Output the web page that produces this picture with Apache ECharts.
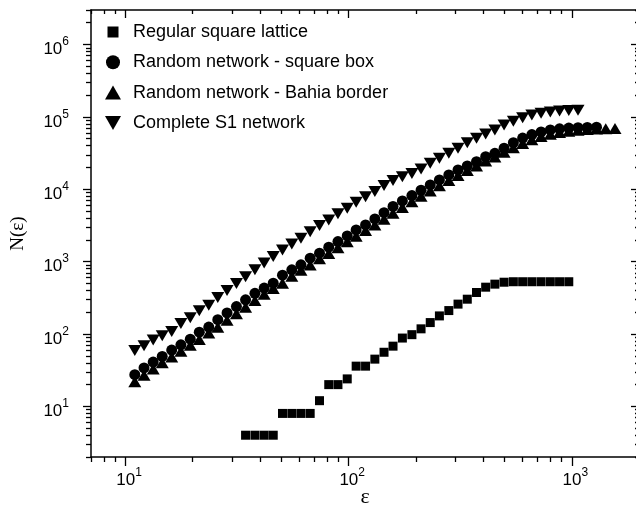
<!DOCTYPE html>
<html><head><meta charset="utf-8">
<script src="https://cdn.jsdelivr.net/npm/echarts@6/dist/echarts.min.js"></script>
<style>html,body{margin:0;padding:0;background:#fff}#c{width:636px;height:508px}</style>
</head><body><div id="c"></div>
<script>
// box size epsilon (shared grid)
const eps = [11, 12.1, 13.3, 14.6, 16.1, 17.7, 19.5, 21.4, 23.6, 25.9, 28.5, 31.4, 34.5, 38.0, 41.8, 45.9,
  50.5, 55.6, 61.1, 67.2, 74.0, 81.4, 89.5, 98.5, 108, 119, 131, 144, 158, 174, 192, 211, 232, 255, 281,
  309, 340, 374, 411, 452, 497, 547, 602, 662, 728, 801, 881, 969, 1066, 1173, 1290, 1419, 1561];

const latticeN = [null, null, null, null, null, null, null, null, null, null, null, null,
  4, 4, 4, 4, 8, 8, 8, 8, 12, 20, 20, 24, 36, 36, 45, 56, 68, 88, 98, 118, 144, 178, 211, 259, 303,
  375, 444, 489, 520, 528, 528, 528, 528, 528, 528, 528];

const squareBoxN = [27.4, 34, 41, 49, 60, 71, 85, 106, 125, 158, 196, 240, 297, 365, 431, 505, 650, 771,
  904, 1117, 1310, 1585, 1897, 2271, 2748, 3222, 3900, 4750, 5800, 6900, 8200, 9700, 11480, 13450, 15770,
  18490, 20990, 24100, 28200, 31400, 36900, 44000, 51000, 57000, 62000, 66000, 68500, 70000, 71000,
  71500, 72000];

const bahiaN = [22, 27, 33, 40, 48, 58, 70, 84, 103, 124, 155, 190, 235, 290, 355, 425, 505, 630, 760,
  900, 1100, 1300, 1560, 1880, 2250, 2700, 3200, 3850, 4650, 5600, 6700, 8000, 9500, 11200, 13200, 15500,
  18200, 21000, 24500, 28000, 32500, 37500, 43000, 48500, 53500, 57500, 61000, 63500, 65500, 67000,
  68000, 68500, 69000];

const completeS1N = [59, 69, 83, 95, 108, 140, 168, 210, 250, 320, 400, 500, 620, 771, 960, 1175, 1450,
  1750, 2110, 2600, 3150, 3776, 4600, 5470, 6600, 7900, 9300, 11300, 13200, 14900, 16500, 19100, 22900,
  26800, 31400, 36900, 44100, 50700, 58100, 65900, 77300, 87000, 97000, 106000, 112000, 117000, 120500,
  123000, 124000];

const seriesNames = ['Regular square lattice', 'Random network - square box',
  'Random network - Bahia border', 'Complete S1 network'];

const xMajor = [10, 100, 1000];
const xMinor = [7, 8, 9, 20, 30, 40, 50, 60, 70, 80, 90, 200, 300, 400, 500, 600, 700, 800, 900, 2000];
const yMajor = [10, 100, 1000, 10000, 100000, 1000000];
const yMinor = [2, 3, 4, 5, 6, 7, 8, 9, 20, 30, 40, 50, 60, 70, 80, 90, 200, 300, 400, 500, 600, 700, 800, 900,
  2000, 3000, 4000, 5000, 6000, 7000, 8000, 9000, 20000, 30000, 40000, 50000, 60000, 70000, 80000, 90000,
  200000, 300000, 400000, 500000, 600000, 700000, 800000, 900000, 2000000, 3000000];

const FONT = "'Liberation Sans', Arial, sans-serif";
const SERIF = "'Liberation Serif', 'Times New Roman', serif";

function pairs(vals) {
  const out = [];
  vals.forEach((v, i) => { if (v != null) out.push([eps[i], v]); });
  return out;
}
function supLabel(v) {
  const e = Math.round(Math.log10(v));
  return '{b|10}{s|' + e + '}';
}
const black = '#000';
function richFor(leftPad) {
  return {
    b: { fontSize: 17, fontFamily: FONT, color: black, lineHeight: 17, padding: [10, 0, 0, leftPad] },
    s: { fontSize: 12, fontFamily: FONT, color: black, lineHeight: 12, verticalAlign: 'top' }
  };
}
function axis(kind, pos, lo, hi, ticks, len, inside, showLine, extra) {
  return Object.assign({
    type: 'log', logBase: 10, position: pos, min: lo, max: hi,
    axisLine: { show: showLine, lineStyle: { color: black, width: 1.5 } },
    axisTick: { show: true, customValues: ticks, length: len, inside: inside, lineStyle: { color: black, width: 1.3 } },
    axisLabel: { show: false },
    splitLine: { show: false }, minorTick: { show: false }, minorSplitLine: { show: false }
  }, extra || {});
}

const chart = echarts.init(document.getElementById('c'), null, { renderer: 'canvas' });
chart.setOption({
  animation: false,
  backgroundColor: '#fff',
  grid: { left: 91, top: 10, width: 548, height: 447, containLabel: false, outerBoundsMode: 'none' },
  xAxis: [
    axis('x', 'bottom', 7, 2000, xMajor, 9, false, true, {
      axisLabel: { show: true, customValues: xMajor, formatter: supLabel, margin: 10, rich: richFor(7) },
      name: 'ε', nameLocation: 'middle', nameGap: 29, nameMoveOverlap: false,
      nameTextStyle: { fontFamily: SERIF, fontSize: 22, color: black }
    }),
    axis('x', 'bottom', 7, 2000, xMinor, 5, false, false),
    axis('x', 'top', 7, 2000, xMajor, 8, true, true),
    axis('x', 'top', 7, 2000, xMinor, 4, true, false)
  ],
  yAxis: [
    axis('y', 'left', 2, 3000000, yMajor, 8, false, true, {
      axisLabel: { show: true, customValues: yMajor, formatter: supLabel, margin: 22, rich: richFor(0) },
      name: 'N(ε)', nameLocation: 'middle', nameGap: 63, nameMoveOverlap: false,
      nameTextStyle: { fontFamily: SERIF, fontSize: 19, color: black }
    }),
    axis('y', 'left', 2, 3000000, yMinor, 5, false, false),
    axis('y', 'right', 2, 3000000, yMajor, 8, true, true),
    axis('y', 'right', 2, 3000000, yMinor, 4, true, false)
  ],
  legend: {
    orient: 'vertical', left: 105, top: 23, padding: 0, itemGap: 12.3,
    itemWidth: 16, itemHeight: 14, selectedMode: false,
    formatter: n => '{t|' + n + '}',
    textStyle: { color: black, fontSize: 18, fontFamily: FONT,
      rich: { t: { fontSize: 18, fontFamily: FONT, color: black, lineHeight: 20, padding: [0, 0, 0, 7] } } },
    data: [
      { name: seriesNames[0], icon: 'path://M0,0 M16,14 M2.5,1.5 L13.5,1.5 L13.5,12.5 L2.5,12.5 Z' },
      { name: seriesNames[1], icon: 'circle' },
      { name: seriesNames[2], icon: 'triangle' },
      { name: seriesNames[3], icon: 'path://M0,0 L16,0 L8,14 Z' }
    ]
  },
  series: [
    { name: seriesNames[0], type: 'scatter', symbol: 'rect', symbolSize: 9,
      itemStyle: { color: black, opacity: 1 }, data: pairs(latticeN) },
    { name: seriesNames[1], type: 'scatter', symbol: 'circle', symbolSize: 11,
      itemStyle: { color: black, opacity: 1 }, data: pairs(squareBoxN) },
    { name: seriesNames[2], type: 'scatter', symbol: 'triangle', symbolSize: [13, 11],
      itemStyle: { color: black, opacity: 1 }, data: pairs(bahiaN) },
    { name: seriesNames[3], type: 'scatter', symbol: 'triangle', symbolRotate: 180, symbolSize: [13, 11],
      itemStyle: { color: black, opacity: 1 }, data: pairs(completeS1N) }
  ]
});
</script>
</body></html>
